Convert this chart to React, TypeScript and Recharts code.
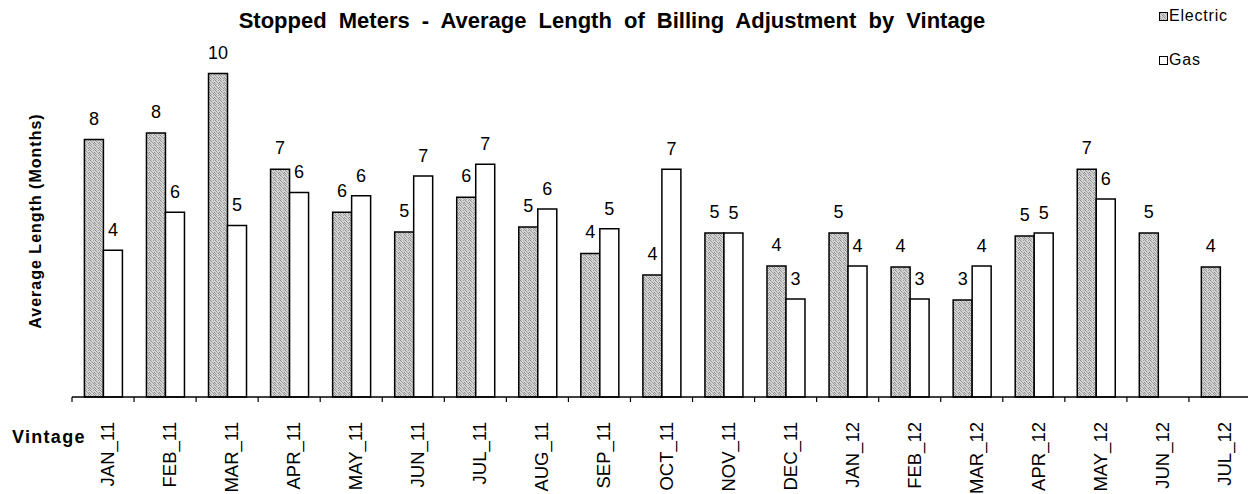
import React from "react";
import { BarChart, Bar, XAxis, YAxis, LabelList, Legend } from "recharts";

const categories = [
  "JAN_11", "FEB_11", "MAR_11", "APR_11", "MAY_11", "JUN_11", "JUL_11", "AUG_11", "SEP_11", "OCT_11",
  "NOV_11", "DEC_11", "JAN_12", "FEB_12", "MAR_12", "APR_12", "MAY_12", "JUN_12", "JUL_12",
];
const electric = [7.8, 8.0, 9.8, 6.9, 5.6, 5.0, 6.05, 5.15, 4.35, 3.7, 4.97, 3.97, 4.97, 3.94, 2.94, 4.88, 6.9, 4.97, 3.94];
const gas: (number | null)[] = [4.45, 5.6, 5.2, 6.2, 6.1, 6.7, 7.05, 5.7, 5.1, 6.9, 4.97, 2.97, 3.97, 2.97, 3.97, 4.97, 6.0, null, null];

const data = categories.map((c, i) => ({ name: c, Electric: electric[i], Gas: gas[i] }));

const FONT = "'Liberation Sans', Arial, sans-serif";
const CHART_W = 1260;
const CHART_H = 494;
const MARGIN = { top: 67, right: 9, left: 72, bottom: 0 };
const HALF_BAND = (CHART_W - MARGIN.left - MARGIN.right) / categories.length / 2;

const Tick = (props: any) => {
  const { x, y, payload, index } = props;
  const last = index === categories.length - 1;
  return (
    <g>
      <line x1={x - HALF_BAND} y1={y} x2={x - HALF_BAND} y2={y + 5} stroke="#000" strokeWidth={1.2} />
      {last && <line x1={x + HALF_BAND} y1={y} x2={x + HALF_BAND} y2={y + 5} stroke="#000" strokeWidth={1.2} />}
      <g transform={`translate(${x + 11},${y + 25}) rotate(-90)`}>
        <text x={0} y={0} textAnchor="end" fontSize={18.5} fontFamily={FONT} fill="#000">
          {payload.value}
        </text>
      </g>
    </g>
  );
};

const LegendContent = () => (
  <div style={{ fontFamily: FONT, fontSize: 16, color: "#000", lineHeight: "16px" }}>
    <div style={{ display: "flex", alignItems: "center", height: 16 }}>
      <svg width={9} height={9} style={{ marginRight: 1 }}>
        <rect x={0.5} y={0.5} width={8} height={8} fill="url(#stipple)" stroke="#000" strokeWidth={1} />
      </svg>
      <span style={{ letterSpacing: 0.8 }}>Electric</span>
    </div>
    <div style={{ display: "flex", alignItems: "center", height: 16, marginTop: 28 }}>
      <svg width={9} height={9} style={{ marginRight: 1 }}>
        <rect x={0.5} y={0.5} width={8} height={8} fill="#fff" stroke="#000" strokeWidth={1} />
      </svg>
      <span style={{ letterSpacing: 0.8 }}>Gas</span>
    </div>
  </div>
);

export default function App() {
  return (
    <div style={{ position: "absolute", left: 0, top: 0, width: 1248, height: 494, overflow: "hidden", background: "#fff" }}>
      <BarChart
        width={CHART_W}
        height={CHART_H}
        data={data}
        margin={MARGIN}
        barCategoryGap="20%"
        barGap={0}
      >
        <defs>
          <pattern id="stipple" width={5} height={5} patternUnits="userSpaceOnUse">
            <rect width={5} height={5} fill="#d4d4d4" />
            <rect x={0} y={0} width={1} height={1} fill="#8a8a8a" />
            <rect x={3} y={0} width={1} height={1} fill="#a0a0a0" />
            <rect x={1} y={1} width={1} height={1} fill="#999" />
            <rect x={4} y={2} width={1} height={1} fill="#888" />
            <rect x={2} y={2} width={1} height={1} fill="#a4a4a4" />
            <rect x={0} y={3} width={1} height={1} fill="#9a9a9a" />
            <rect x={3} y={3} width={1} height={1} fill="#8e8e8e" />
            <rect x={1} y={4} width={1} height={1} fill="#a8a8a8" />
            <rect x={4} y={4} width={1} height={1} fill="#9c9c9c" />
          </pattern>
        </defs>
        <XAxis
          dataKey="name"
          height={97}
          interval={0}
          tickLine={false}
          tickSize={0}
          tickMargin={0}
          axisLine={{ stroke: "#000", strokeWidth: 1.3 }}
          tick={<Tick />}
        />
        <YAxis hide domain={[0, 10]} />
        <Legend
          layout="horizontal"
          verticalAlign="middle"
          align="center"
          content={<LegendContent />}
          wrapperStyle={{ position: "absolute", top: 8, left: 1159, width: 90 }}
        />
        <Bar dataKey="Electric" fill="url(#stipple)" stroke="#000" strokeWidth={1.5} isAnimationActive={false}>
          <LabelList
            dataKey="Electric"
            position="top"
            offset={15}
            formatter={(v: any) => (v == null ? "" : Math.round(Number(v)))}
            style={{ fontSize: 18, fontFamily: FONT, fill: "#000" }}
          />
        </Bar>
        <Bar dataKey="Gas" fill="#fff" stroke="#000" strokeWidth={1.5} isAnimationActive={false}>
          <LabelList
            dataKey="Gas"
            position="top"
            offset={14}
            formatter={(v: any) => (v == null ? "" : Math.round(Number(v)))}
            style={{ fontSize: 18, fontFamily: FONT, fill: "#000" }}
          />
        </Bar>
      </BarChart>
      <svg
        width={1248}
        height={494}
        style={{ position: "absolute", left: 0, top: 0, pointerEvents: "none" }}
      >
        <text x={612} y={28} textAnchor="middle" fontSize={22} fontWeight="bold" fontFamily={FONT} wordSpacing={6} fill="#000">
          Stopped Meters - Average Length of Billing Adjustment by Vintage
        </text>
        <text
          transform="translate(41,221) rotate(-90)"
          textAnchor="middle"
          fontSize={16}
          fontWeight="bold"
          fontFamily={FONT}
          letterSpacing={1}
          fill="#000"
        >
          Average Length (Months)
        </text>
        <text x={12} y={443} fontSize={18} fontWeight="bold" fontFamily={FONT} letterSpacing={1.3} fill="#000">
          Vintage
        </text>
      </svg>
    </div>
  );
}
